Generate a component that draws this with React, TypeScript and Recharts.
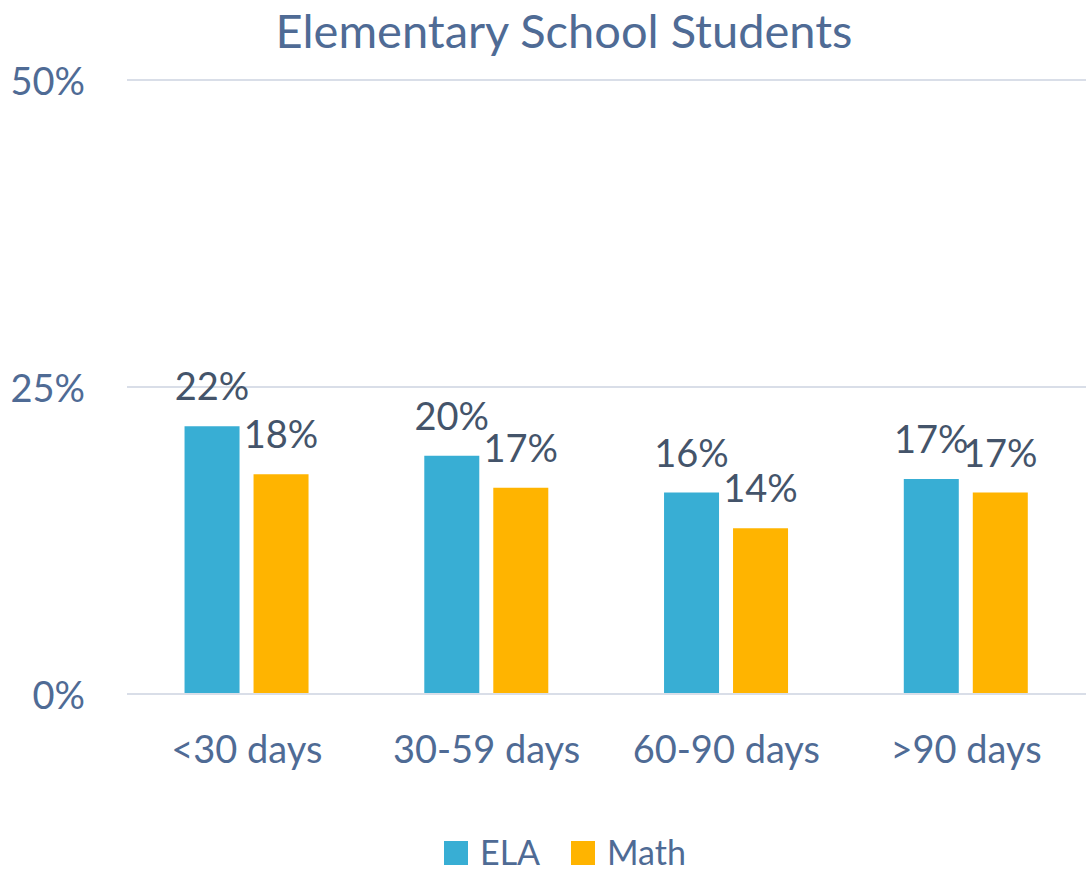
import React from "react";
import { BarChart, Bar, XAxis, YAxis, CartesianGrid, LabelList } from "recharts";

const categories = ["<30 days", "30-59 days", "60-90 days", ">90 days"];
const elaValues = [21.8, 19.4, 16.4, 17.5];
const mathValues = [17.9, 16.8, 13.5, 16.4];
const elaLabels = ["22%", "20%", "16%", "17%"];
const mathLabels = ["18%", "17%", "14%", "17%"];
const yTicks = [0, 25, 50];

const data = categories.map((c, i) => ({
  name: c,
  ela: elaValues[i],
  math: mathValues[i],
  elaLabel: elaLabels[i],
  mathLabel: mathLabels[i],
}));

const FONT = "Lato, 'Open Sans', sans-serif";
const TICK_COLOR = "#4F6B95";
const LABEL_COLOR = "#44546A";
const ELA_COLOR = "#38AED4";
const MATH_COLOR = "#FFB400";

const YTick = (props: any) => {
  const { y, payload } = props;
  return (
    <text x={85} y={y} textAnchor="end" dominantBaseline="central" fill={TICK_COLOR} fontSize={38} fontFamily={FONT}>
      {payload.value}%
    </text>
  );
};

const XTick = (props: any) => {
  const { x, payload } = props;
  return (
    <text x={x} y={748} textAnchor="middle" dominantBaseline="central" fill={TICK_COLOR} fontSize={38} fontFamily={FONT}>
      {payload.value}
    </text>
  );
};

const makeLabel = (labels: string[]) => (props: any) => {
  const { x, y, width, index } = props;
  return (
    <text x={x + width / 2} y={y - 26} textAnchor="middle" fill={LABEL_COLOR} fontSize={38} fontFamily={FONT}>
      {labels[index]}
    </text>
  );
};

export default function App() {
  return (
    <div style={{ position: "absolute", left: 0, top: 0, width: 1086, height: 870, background: "#fff" }}>
      <BarChart
        width={1086}
        height={870}
        data={data}
        margin={{ top: 80, right: 0, bottom: 146, left: 0 }}
        barCategoryGap="24%"
        barGap={14}
      >
        <text x={564} y={30} textAnchor="middle" dominantBaseline="central" fill={TICK_COLOR} fontSize={47} fontFamily={FONT}>
          Elementary School Students
        </text>
        <CartesianGrid vertical={false} stroke="#D9DEE8" strokeWidth={2} />
        <YAxis
          width={127}
          domain={[0, 50]}
          ticks={yTicks}
          axisLine={false}
          tickLine={false}
          tick={<YTick />}
        />
        <XAxis
          dataKey="name"
          height={30}
          axisLine={{ stroke: "#D9DEE8", strokeWidth: 2 }}
          tickLine={false}
          tick={<XTick />}
        />
        <Bar dataKey="ela" name="ELA" fill={ELA_COLOR} isAnimationActive={false}>
          <LabelList dataKey="elaLabel" content={makeLabel(elaLabels)} />
        </Bar>
        <Bar dataKey="math" name="Math" fill={MATH_COLOR} isAnimationActive={false}>
          <LabelList dataKey="mathLabel" content={makeLabel(mathLabels)} />
        </Bar>
        <rect x={444} y={841} width={24} height={24} fill={ELA_COLOR} />
        <text x={480} y={865} fill={TICK_COLOR} fontSize={34} fontFamily={FONT}>ELA</text>
        <rect x={571} y={841} width={24} height={24} fill={MATH_COLOR} />
        <text x={607} y={865} fill={TICK_COLOR} fontSize={34} fontFamily={FONT}>Math</text>
      </BarChart>
    </div>
  );
}
